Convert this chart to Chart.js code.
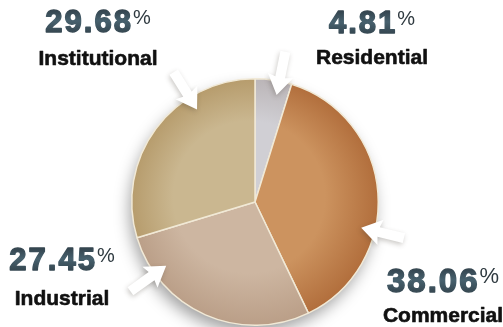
<!DOCTYPE html>
<html>
<head>
<meta charset="utf-8">
<script src="https://cdn.jsdelivr.net/npm/chart.js@4/dist/chart.umd.min.js"></script>
<style>
  html, body { margin: 0; padding: 0; background: #ffffff; overflow: hidden; }
  #wrap { width: 503px; height: 327px; position: relative; }
</style>
</head>
<body>
<div id="wrap"><canvas id="c" width="503" height="327"></canvas></div>
<script>
// Building energy use by sector, share of total (%)
const categories = ['Residential', 'Commercial', 'Industrial', 'Institutional'];
const shares = [4.81, 38.06, 27.45, 29.68];

// Slice fills: slightly lighter toward the middle, darker at the rim
const innerColors = ['#d0cfd4', '#cc935f', '#cdb6a1', '#cab790'];
const outerColors = ['#b9b3b5', '#b06c3a', '#b99d86', '#b59a6a'];

// Where each caption block sits (centre x, number baseline, name baseline, number size)
const captionLayout = [
  { cx: 372, numY: 33,  nameY: 64,  size: 31 },
  { cx: 443, numY: 292, nameY: 322, size: 33 },
  { cx: 62,  numY: 270, nameY: 305, size: 31 },
  { cx: 98,  numY: 32,  nameY: 65,  size: 31 }
];
// Position of each pointer along its slice's arc (0 = start, 1 = end)
const pointerAlong = [0.66, 0.63, 0.81, 0.70];

function sliceFill(ctx) {
  const i = ctx.dataIndex;
  const chart = ctx.chart;
  const a = chart.chartArea;
  if (!a) return innerColors[i];
  const cx = (a.left + a.right) / 2, cy = (a.top + a.bottom) / 2;
  const r = Math.min(a.width, a.height) / 2;
  const g = chart.ctx.createRadialGradient(cx - r * 0.12, cy - r * 0.1, 0, cx, cy, r * 1.02);
  g.addColorStop(0, innerColors[i]);
  g.addColorStop(0.6, innerColors[i]);
  g.addColorStop(1, outerColors[i]);
  return g;
}

// Soft drop shadow under the whole disc
const discShadow = {
  id: 'discShadow',
  beforeDatasetsDraw(chart) {
    const arc = chart.getDatasetMeta(0).data[0];
    if (!arc) return;
    const ctx = chart.ctx;
    ctx.save();
    ctx.shadowColor = 'rgba(0,0,0,0.38)';
    ctx.shadowBlur = 16;
    ctx.shadowOffsetX = -3;
    ctx.shadowOffsetY = 8;
    ctx.fillStyle = '#c4a27f';
    ctx.beginPath();
    ctx.arc(arc.x, arc.y, arc.outerRadius - 1, 0, Math.PI * 2);
    ctx.fill();
    ctx.restore();
  }
};

// White arrows biting into the rim of each slice
const pointers = {
  id: 'pointers',
  afterDatasetsDraw(chart) {
    const ctx = chart.ctx;
    const arcs = chart.getDatasetMeta(0).data;
    arcs.forEach((arc, i) => {
      const ang = arc.startAngle + pointerAlong[i] * (arc.endAngle - arc.startAngle);
      const ux = Math.cos(ang), uy = Math.sin(ang);
      const px = -uy, py = ux;
      const r = arc.outerRadius;
      const at = (d, w) => [arc.x + ux * d + px * w, arc.y + uy * d + py * w];
      const shape = [
        at(r - 14, 0), at(r + 6, 13), at(r + 4, 5), at(r + 30, 5),
        at(r + 30, -5), at(r + 4, -5), at(r + 6, -13)
      ];
      ctx.save();
      ctx.shadowColor = 'rgba(70,60,50,0.28)';
      ctx.shadowBlur = 5;
      ctx.shadowOffsetX = -1;
      ctx.shadowOffsetY = 2;
      ctx.fillStyle = '#ffffff';
      ctx.beginPath();
      ctx.moveTo(...shape[0]);
      shape.slice(1).forEach(p => ctx.lineTo(...p));
      ctx.closePath();
      ctx.fill();
      ctx.restore();
    });
  }
};

// Percentage and sector name beside each slice
const captions = {
  id: 'captions',
  afterDraw(chart) {
    const ctx = chart.ctx;
    const values = chart.data.datasets[0].data;
    chart.data.labels.forEach((name, i) => {
      const L = captionLayout[i];
      const num = values[i].toFixed(2);
      const numFont = `bold ${L.size}px "Liberation Sans", Arial, sans-serif`;
      const pctFont = `${Math.round(L.size * 0.66)}px "Liberation Sans", Arial, sans-serif`;
      ctx.save();
      ctx.textBaseline = 'alphabetic';
      ctx.textAlign = 'left';
      ctx.lineJoin = 'round';
      ctx.font = numFont;
      ctx.letterSpacing = '2px';
      const wNum = ctx.measureText(num).width;
      ctx.font = pctFont;
      ctx.letterSpacing = '0px';
      const wPct = ctx.measureText('%').width;
      const x0 = L.cx - (wNum + wPct) / 2;
      const g = ctx.createLinearGradient(0, L.numY - L.size * 0.72, 0, L.numY);
      g.addColorStop(0, '#33434d');
      g.addColorStop(0.5, '#47616e');
      g.addColorStop(1, '#364852');
      ctx.fillStyle = g;
      ctx.strokeStyle = g;
      ctx.lineWidth = 1.4;
      ctx.font = numFont;
      ctx.letterSpacing = '2px';
      ctx.fillText(num, x0, L.numY);
      ctx.strokeText(num, x0, L.numY);
      ctx.letterSpacing = '0px';
      ctx.fillStyle = '#2f3a40';
      ctx.font = pctFont;
      ctx.fillText('%', x0 + wNum, L.numY - L.size * 0.27);
      ctx.fillStyle = '#111111';
      ctx.strokeStyle = '#111111';
      ctx.lineWidth = 0.6;
      ctx.font = 'bold 21px "Liberation Sans", Arial, sans-serif';
      ctx.textAlign = 'center';
      ctx.fillText(name, L.cx, L.nameY);
      ctx.strokeText(name, L.cx, L.nameY);
      ctx.restore();
    });
  }
};

new Chart(document.getElementById('c'), {
  type: 'pie',
  data: {
    labels: categories,
    datasets: [{
      data: shares,
      backgroundColor: sliceFill,
      borderColor: '#f1e9d6',
      borderWidth: 1.5,
      hoverOffset: 0,
      offset: 0
    }]
  },
  options: {
    responsive: false,
    devicePixelRatio: 1,
    animation: false,
    layout: { padding: { left: 131, right: 124, top: 78, bottom: 1 } },
    plugins: {
      legend: { display: false },
      tooltip: { enabled: false }
    }
  },
  plugins: [discShadow, pointers, captions]
});
</script>
</body>
</html>
